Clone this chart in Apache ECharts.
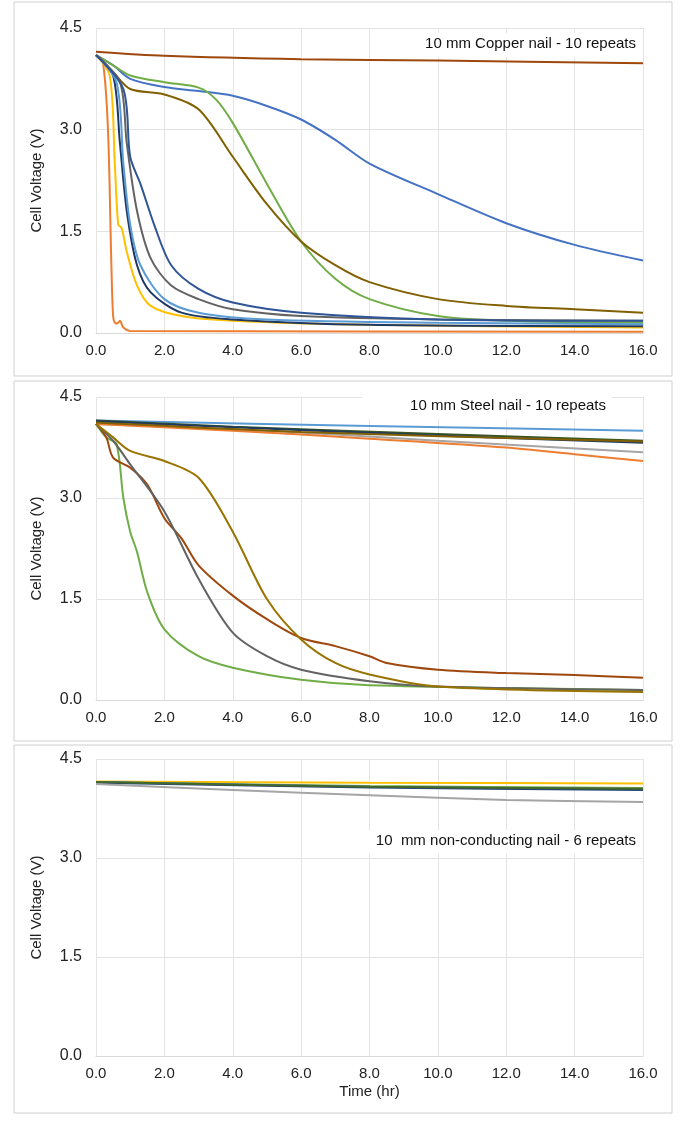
<!DOCTYPE html>
<html><head><meta charset="utf-8">
<script src="https://cdn.jsdelivr.net/npm/echarts@6/dist/echarts.min.js"></script>
<style>html,body{margin:0;background:#fff}#main{width:680px;height:1123px}</style>
</head><body><div id="main"></div>
<script>
// panel 1: copper nail
const copperSeries = [
  ['#9e480e', [[0,4.15],[2,4.09],[6,4.04],[10,4.02],[16,3.98]]],
  ['#4472c4', [[0,4.1],[0.5,3.95],[1,3.75],[2,3.63],[3,3.57],[4,3.5],[5,3.35],[6,3.15],[7,2.85],[8,2.5],[10,2.05],[12,1.62],[14,1.3],[16,1.07]]],
  ['#70ad47', [[0,4.1],[0.5,3.95],[1,3.8],[2,3.7],[3,3.62],[3.5,3.45],[4,3.1],[5,2.2],[6,1.35],[7,0.8],[8,0.5],[10,0.25],[12,0.18],[16,0.15]]],
  ['#806000', [[0,4.1],[0.5,3.85],[1,3.6],[2,3.52],[3,3.3],[4,2.6],[5,1.9],[6,1.35],[7,1.0],[8,0.75],[10,0.5],[12,0.4],[14,0.35],[16,0.3]]],
  ['#ed7d31', [[0,4.1],[0.2,4.0],[0.35,3.0],[0.45,1.0],[0.5,0.25],[0.55,0.15],[0.62,0.14],[0.7,0.18],[0.8,0.08],[1,0.03],[16,0.02]]],
  ['#ffc000', [[0,4.1],[0.4,3.8],[0.55,2.5],[0.65,1.6],[0.75,1.55],[0.9,1.2],[1.2,0.7],[1.6,0.4],[2.5,0.25],[4,0.18],[8,0.12],[16,0.08]]],
  ['#1f3864', [[0,4.1],[0.5,3.8],[0.7,2.8],[0.9,1.8],[1.2,1.0],[1.6,0.6],[2.5,0.3],[4,0.2],[8,0.12],[16,0.1]]],
  ['#5b9bd5', [[0,4.1],[0.6,3.7],[0.8,2.5],[1.0,1.6],[1.3,1.0],[2,0.5],[3,0.3],[5,0.2],[10,0.15],[16,0.13]]],
  ['#636363', [[0,4.1],[0.7,3.7],[0.9,2.8],[1.2,1.8],[1.6,1.1],[2.2,0.7],[3,0.5],[4,0.35],[6,0.25],[10,0.2],[16,0.18]]],
  ['#2f5597', [[0,4.1],[0.8,3.6],[1,2.6],[1.3,2.2],[1.7,1.6],[2.2,1.0],[3,0.65],[4,0.45],[6,0.3],[10,0.2],[16,0.18]]]
];
// panel 2: steel nail
const steelSeries = [
  ['#5b9bd5', [[0,4.15],[8,4.07],[16,4.0]]],
  ['#375623', [[0,4.15],[4,4.06],[10,3.95],[16,3.85]]],
  ['#1f3864', [[0,4.14],[4,4.05],[10,3.93],[16,3.82]]],
  ['#a5a5a5', [[0,4.1],[5,4.0],[10,3.85],[16,3.68]]],
  ['#ed7d31', [[0,4.1],[4,4.0],[8,3.88],[12,3.75],[14,3.65],[16,3.55]]],
  ['#806000', [[0,4.12],[6,3.98],[16,3.84]]],
  ['#70ad47', [[0,4.1],[0.3,3.9],[0.6,3.8],[0.8,3.0],[1,2.5],[1.2,2.2],[1.5,1.6],[2,1.05],[3,0.65],[4,0.48],[6,0.3],[8,0.22],[16,0.15]]],
  ['#9e480e', [[0,4.1],[0.3,3.9],[0.5,3.6],[1,3.45],[1.5,3.2],[2,2.7],[2.5,2.4],[3,2.0],[4,1.55],[5,1.2],[6,0.92],[7,0.8],[8,0.65],[8.5,0.55],[10,0.45],[12,0.4],[14,0.37],[16,0.33]]],
  ['#636363', [[0,4.1],[0.5,3.85],[1,3.5],[2,2.8],[3,1.8],[4,1.0],[5,0.65],[6,0.45],[8,0.28],[10,0.2],[16,0.15]]],
  ['#997300', [[0,4.1],[0.5,3.9],[1,3.7],[2,3.55],[3,3.3],[4,2.5],[5,1.5],[6,0.9],[7,0.55],[8,0.38],[10,0.2],[16,0.12]]]
];
// panel 3: non-conducting nail
const plasticSeries = [
  ['#ffc000', [[0,4.16],[8,4.14],[16,4.13]]],
  ['#70ad47', [[0,4.15],[8,4.09],[16,4.06]]],
  ['#4472c4', [[0,4.15],[8,4.08],[16,4.04]]],
  ['#264478', [[0,4.14],[8,4.07],[16,4.03]]],
  ['#43682b', [[0,4.15],[8,4.08],[16,4.05]]],
  ['#a5a5a5', [[0,4.12],[4,4.03],[8,3.95],[12,3.88],[16,3.85]]]
];
const xTicks = [0, 16, 2];
const yTicks = [0, 4.5, 1.5];
const titles = ['10 mm Copper nail - 10 repeats', '10 mm Steel nail - 10 repeats', '10  mm non-conducting nail - 6 repeats'];

const grids = [
  {left: 96, right: 37, top: 28, bottom: 790},
  {left: 96, right: 37, top: 397, bottom: 423},
  {left: 96, right: 37, top: 759, bottom: 67}
];
const font = 'Liberation Sans, Arial, sans-serif';
const xAxis = grids.map((g, i) => ({
  type: 'value', gridIndex: i, min: xTicks[0], max: xTicks[1], interval: xTicks[2],
  axisLine: {lineStyle: {color: '#d9d9d9'}}, axisTick: {show: false},
  axisLabel: {color: '#222', fontSize: 15, fontFamily: font, margin: 10, formatter: v => v.toFixed(1)},
  splitLine: {lineStyle: {color: '#e4e4e4'}},
  name: i === 2 ? 'Time (hr)' : '', nameLocation: 'middle', nameGap: 28,
  nameTextStyle: {color: '#222', fontSize: 15, fontFamily: font}
}));
const yAxis = grids.map((g, i) => ({
  type: 'value', gridIndex: i, min: yTicks[0], max: yTicks[1], interval: yTicks[2],
  axisLine: {show: false}, axisTick: {show: false},
  axisLabel: {color: '#222', fontSize: 16, fontFamily: font, margin: 14, formatter: v => v.toFixed(1)},
  splitLine: {lineStyle: {color: '#e4e4e4'}},
  name: 'Cell Voltage (V)', nameLocation: 'middle', nameGap: 52, nameRotate: 90,
  nameTextStyle: {color: '#222', fontSize: 15, fontFamily: font}
}));
const series = [];
[copperSeries, steelSeries, plasticSeries].forEach((set, i) => {
  set.forEach(([c, d]) => series.push({
    type: 'line', xAxisIndex: i, yAxisIndex: i, data: d, smooth: 0.3,
    showSymbol: false, lineStyle: {color: c, width: 2}, silent: true
  }));
});
const boxes = [[14, 2, 658, 374], [14, 381, 658, 360], [14, 745, 658, 368]];
const graphic = boxes.map(b => ({type: 'rect', shape: {x: b[0], y: b[1], width: b[2], height: b[3]},
  style: {fill: 'none', stroke: '#cfcfcf', lineWidth: 1}, z: -1}));
// title labels with a white backing box
const titleBoxes = [[374, 33, 268, 24], [362, 395, 250, 24], [368, 830, 274, 24]];
titleBoxes.forEach((b, i) => {
  graphic.push({type: 'rect', shape: {x: b[0], y: b[1], width: b[2], height: b[3]},
    style: {fill: '#fff'}, z: 50});
  graphic.push({type: 'text', x: b[0] + b[2] - 6, y: b[1] + 3, z: 51,
    style: {text: titles[i], fontSize: 15, fontFamily: font, fill: '#111', textAlign: 'right'}});
});

echarts.init(document.getElementById('main')).setOption({
  animation: false, grid: grids, xAxis, yAxis, series, graphic
});
</script></body></html>
